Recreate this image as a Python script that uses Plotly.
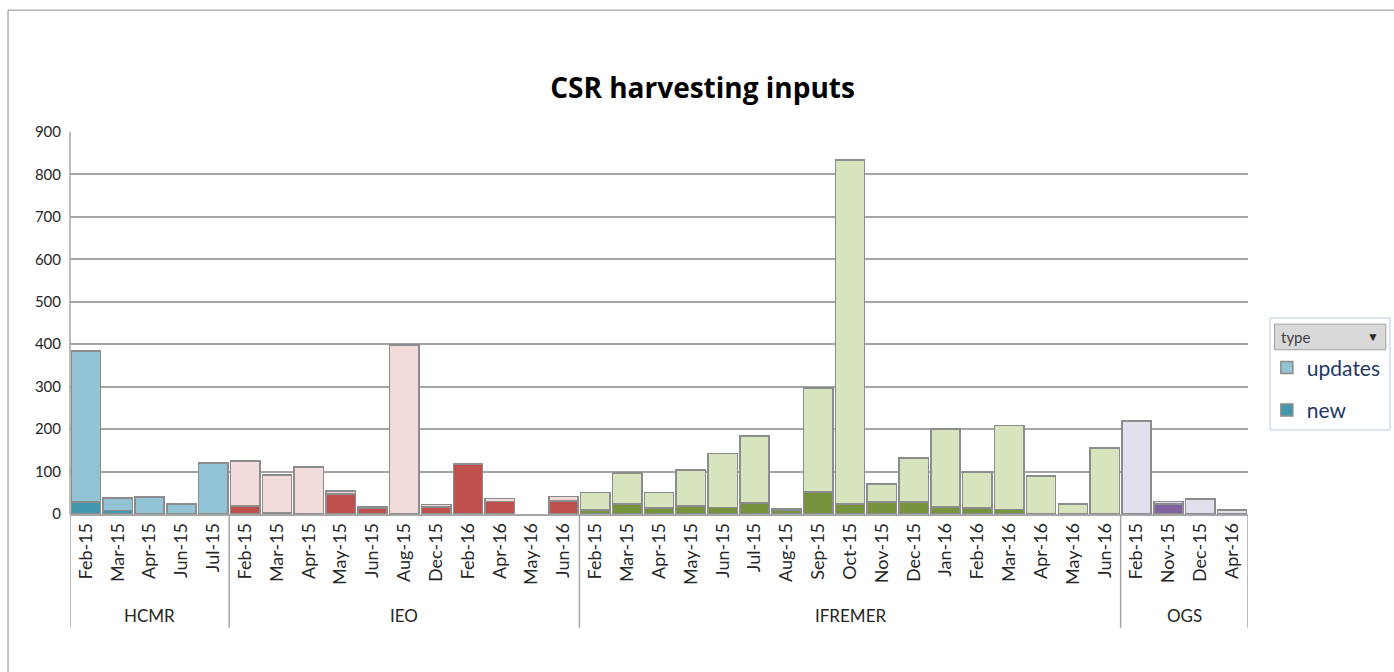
import plotly.graph_objects as go

title = "CSR harvesting inputs"

hcmr_months = ["Feb-15", "Mar-15", "Apr-15", "Jun-15", "Jul-15"]
hcmr_new = [28, 8, 0, 0, 0]
hcmr_updates = [356, 30, 40, 24, 120]

ieo_months = ["Feb-15", "Mar-15", "Apr-15", "May-15", "Jun-15", "Aug-15",
              "Dec-15", "Feb-16", "Apr-16", "May-16", "Jun-16"]
ieo_new = [19, 3, 0, 47, 14, 0, 17, 118, 29, 0, 31]
ieo_updates = [106, 89, 111, 7, 2, 398, 5, 0, 7, 0, 10]

ifremer_months = ["Feb-15", "Mar-15", "Apr-15", "May-15", "Jun-15", "Jul-15",
                  "Aug-15", "Sep-15", "Oct-15", "Nov-15", "Dec-15", "Jan-16",
                  "Feb-16", "Mar-16", "Apr-16", "May-16", "Jun-16"]
ifremer_new = [9, 23, 14, 19, 15, 26, 10, 52, 23, 28, 28, 17, 14, 11, 0, 0, 0]
ifremer_updates = [42, 74, 37, 85, 127, 158, 2, 245, 811, 43, 104, 183, 85, 197, 89, 23, 156]

ogs_months = ["Feb-15", "Nov-15", "Dec-15", "Apr-16"]
ogs_new = [0, 23, 0, 0]
ogs_updates = [219, 6, 35, 10]

groups = [
    ("HCMR", hcmr_months, hcmr_new, hcmr_updates, "#4198af", "#93c4d6"),
    ("IEO", ieo_months, ieo_new, ieo_updates, "#c0504d", "#f2dcdb"),
    ("IFREMER", ifremer_months, ifremer_new, ifremer_updates, "#77933c", "#d7e4bd"),
    ("OGS", ogs_months, ogs_new, ogs_updates, "#8064a2", "#e4dfec"),
]

FONT = "Lato, 'Open Sans', sans-serif"
fig = go.Figure()


def nz(vals):
    return [v if v else None for v in vals]


tickvals, ticktext = [], []
boundaries = [-0.5]
centers = []
start = 0
for gi, (name, months, new, upd, cnew, cupd) in enumerate(groups):
    xs = list(range(start, start + len(months)))
    tickvals += xs
    ticktext += months
    fig.add_trace(go.Bar(
        x=xs, y=nz(new), name="new", legendgroup="new",
        marker=dict(color=cnew, line=dict(color="#8c8c8c", width=1.5)),
        width=0.92, showlegend=(gi == 0), legendrank=2))
    fig.add_trace(go.Bar(
        x=xs, y=nz(upd), name="updates", legendgroup="updates",
        marker=dict(color=cupd, line=dict(color="#8c8c8c", width=1.5)),
        width=0.92, showlegend=(gi == 0), legendrank=1))
    centers.append((start + start + len(months) - 1) / 2)
    start += len(months)
    boundaries.append(start - 0.5)

shapes = []
for b in boundaries:
    shapes.append(dict(type="line", xref="x", yref="paper", x0=b, x1=b, y0=0, y1=-0.298,
                       line=dict(color="#a6a6a6", width=1.5)))
# left axis line
shapes.append(dict(type="line", xref="paper", yref="paper", x0=0, x1=0, y0=0, y1=1,
                   line=dict(color="#a6a6a6", width=1.5)))
# outer chart frame
shapes.append(dict(type="rect", xref="paper", yref="paper", x0=-0.0526, x1=1.2, y0=-0.5, y1=1.319,
                   line=dict(color="#8c8c8c", width=1)))
# legend frame and header button
shapes.append(dict(type="rect", xref="paper", yref="paper", x0=1.0187, x1=1.1205, y0=0.22, y1=0.513,
                   line=dict(color="#b8cce4", width=1), fillcolor="white", layer="below"))
shapes.append(dict(type="rect", xref="paper", yref="paper", x0=1.0225, x1=1.117, y0=0.43, y1=0.497,
                   line=dict(color="#a0a0a0", width=1), fillcolor="#d9d9d9", layer="below"))

annotations = []
for (name, *_), c in zip(groups, centers):
    annotations.append(dict(x=c, y=-0.267, xref="x", yref="paper", text=name, showarrow=False,
                            yanchor="middle", font=dict(family=FONT, size=17, color="#262626")))
annotations.append(dict(x=1.113, y=0.4635, xref="paper", yref="paper", text="▼", showarrow=False,
                        xanchor="right", yanchor="middle", font=dict(size=12, color="#262626")))
annotations.append(dict(x=1.026, y=0.4635, xref="paper", yref="paper", text="type", showarrow=False,
                        xanchor="left", yanchor="middle", font=dict(family=FONT, size=15, color="#404040")))

fig.update_layout(
    width=1394, height=672,
    paper_bgcolor="white", plot_bgcolor="white",
    margin=dict(l=70, r=146, t=132, b=158, autoexpand=False),
    barmode="stack", bargap=0.08,
    title=dict(text="<b>" + title + "</b>", x=0.504, xanchor="center", y=0.869, yanchor="middle",
               font=dict(family="'Open Sans', sans-serif", size=28, color="black")),
    font=dict(family=FONT, color="#262626"),
    xaxis=dict(range=[-0.5, start - 0.5], tickmode="array", tickvals=tickvals, ticktext=ticktext,
               tickangle=-90, tickfont=dict(size=18, color="#262626"), showgrid=False,
               showline=True, linecolor="#a6a6a6", linewidth=1.5, ticks="", automargin=False),
    yaxis=dict(range=[0, 900], dtick=100, showgrid=True, gridcolor="#a6a6a6", gridwidth=1.5,
               tickfont=dict(size=15, color="#262626"), zeroline=False, ticks="",
               ticklabelstandoff=8, automargin=False),
    legend=dict(x=1.016, y=0.436, xanchor="left", yanchor="top", traceorder="grouped",
                font=dict(family=FONT, size=21, color="#1f3864"), bgcolor="rgba(0,0,0,0)",
                itemwidth=30, tracegroupgap=12),
    shapes=shapes, annotations=annotations,
)

fig.write_html("out.html", config={"displayModeBar": False},
               post_script="document.body.style.margin='0';")
